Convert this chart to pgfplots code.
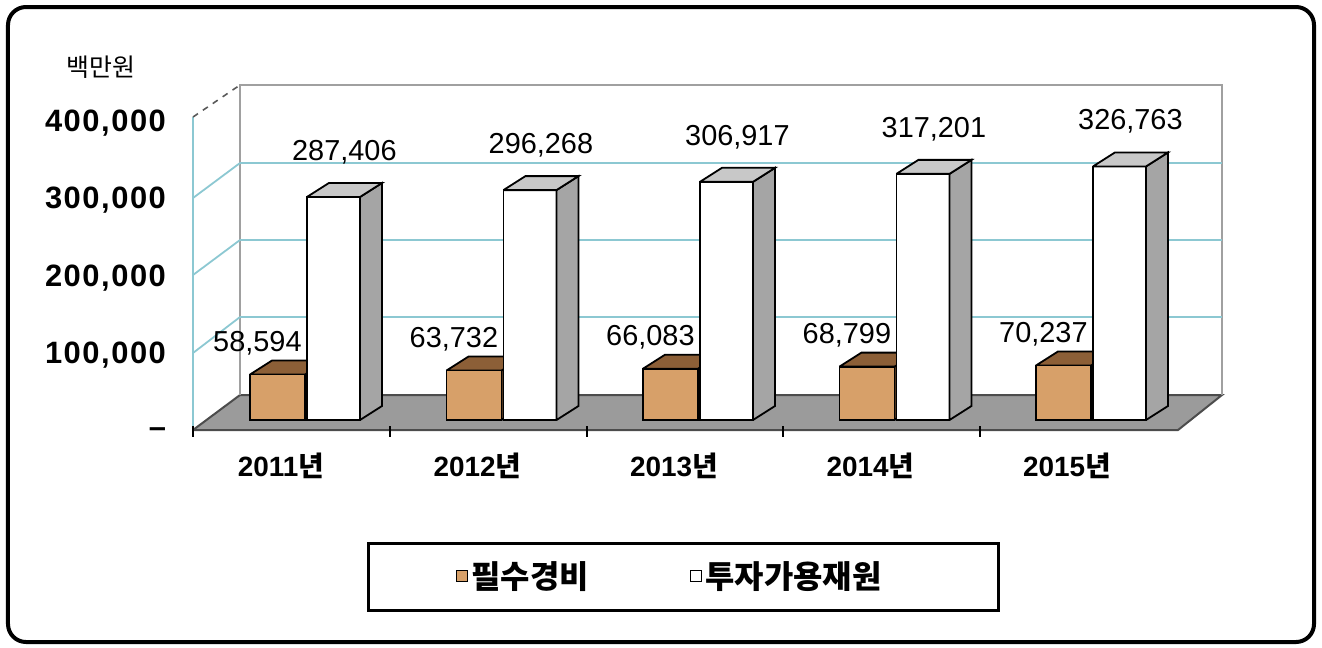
\documentclass[border=0pt]{standalone}
\usepackage{fontspec}
\setmainfont{Liberation Sans}
\newfontfamily\cjk{Noto Sans CJK KR}
\newfontfamily\tickfont{Liberation Sans}[LetterSpace=5]
\usepackage{pgfplots}
\pgfplotsset{compat=1.18}
\definecolor{brownfront}{RGB}{215,160,105}
\definecolor{browntop}{RGB}{140,95,55}
\definecolor{brownside}{RGB}{115,78,45}
\definecolor{wtop}{RGB}{200,200,200}
\definecolor{wside}{RGB}{165,165,165}
\definecolor{floorc}{RGB}{155,155,155}
\definecolor{gridc}{RGB}{140,200,210}
\definecolor{wallc}{RGB}{160,160,160}
\begin{document}
\begin{tikzpicture}
\begin{axis}[
  scale only axis, width=516bp, height=173.5bp,
  xmin=-0.5038, xmax=4.748, ymin=-12887, ymax=434292,
  clip=false, axis line style={draw=none}, major tick length=0pt,
  scaled y ticks=false,
  xtick={0,1,2,3,4},
  xticklabels={2011{\cjk 년},2012{\cjk 년},2013{\cjk 년},2014{\cjk 년},2015{\cjk 년}},
  ytick={0,100000,200000,300000,400000},
  yticklabels={{–},{100,000},{200,000},{300,000},{400,000}},
  yticklabel style={font=\tickfont\bfseries\fontsize{15.5}{16}\selectfont, xshift=-10bp, yshift=-6.5bp},
  xticklabel style={font=\bfseries\fontsize{14}{16}\selectfont, xshift=-5.5bp, yshift=-8bp},
  legend style={at={(0.4623,-0.4208)}, anchor=center, draw=none, fill=none,
    legend columns=2, font=\fontsize{16}{18}\selectfont\cjk\bfseries,
    nodes={inner sep=1.5bp},
    /tikz/every even column/.append style={column sep=49bp}},
]
% bounding box and outer frame
\path (axis cs:-1.486,-292535) rectangle (axis cs:5.2417,541254);
\draw[line width=2bp, rounded corners=9bp] (axis cs:-1.4453,532233) rectangle (axis cs:5.2010,-286091);
\node[font=\fontsize{12.5}{14}\selectfont\cjk] at (axis cs:-0.972,454911) {백만원};
% floor
\addplot[forget plot, fill=floorc, draw=gray!60!black, line width=1bp] coordinates {(-0.5038,-12887) (4.5089,-12887) (4.7328,32218) (-0.2646,32218) (-0.5038,-12887)};
% back wall
\addplot[forget plot, draw=wallc, line width=0.8bp] coordinates {(-0.2646,32218) (-0.2646,431714) (4.7328,431714) (4.7328,32218)};
\addplot[forget plot, draw=gridc, line width=0.9bp] coordinates {(-0.2646,132736) (4.7328,132736)};
\addplot[forget plot, draw=gridc, line width=0.9bp] coordinates {(-0.2646,231966) (4.7328,231966)};
\addplot[forget plot, draw=gridc, line width=0.9bp] coordinates {(-0.2646,331196) (4.7328,331196)};
% left wall
\addplot[forget plot, draw=gridc, line width=0.9bp] coordinates {(-0.5038,-12887) (-0.5038,390476)};
\addplot[forget plot, draw=gridc, line width=0.9bp] coordinates {(-0.5038,86343) (-0.2646,132736)};
\addplot[forget plot, draw=gridc, line width=0.9bp] coordinates {(-0.5038,186862) (-0.2646,231966)};
\addplot[forget plot, draw=gridc, line width=0.9bp] coordinates {(-0.5038,286091) (-0.2646,331196)};
\addplot[forget plot, draw=gray!70!black, dashed, line width=0.8bp] coordinates {(-0.5038,390476) (-0.2646,431714)};
% front edge ticks
\addplot[forget plot, draw=black, line width=1.2bp] coordinates {(0.5,-7732) (0.5,-21908)};
\addplot[forget plot, draw=black, line width=1.2bp] coordinates {(1.5,-7732) (1.5,-21908)};
\addplot[forget plot, draw=black, line width=1.2bp] coordinates {(2.5,-7732) (2.5,-21908)};
\addplot[forget plot, draw=black, line width=1.2bp] coordinates {(3.5,-7732) (3.5,-21908)};
\addplot[forget plot, draw=black, line width=1.2bp] coordinates {(-0.5038,-7732) (-0.5038,-21908)};
% brown bar sides and tops
\addplot[forget plot, fill=brownside, draw=black, line width=0.9bp] coordinates {(0.066,0) (0.178,18042) (0.178,76636) (0.066,58594) (0.066,0)};
\addplot[forget plot, fill=brownside, draw=black, line width=0.9bp] coordinates {(1.066,0) (1.178,18042) (1.178,81774) (1.066,63732) (1.066,0)};
\addplot[forget plot, fill=brownside, draw=black, line width=0.9bp] coordinates {(2.066,0) (2.178,18042) (2.178,84125) (2.066,66083) (2.066,0)};
\addplot[forget plot, fill=brownside, draw=black, line width=0.9bp] coordinates {(3.066,0) (3.178,18042) (3.178,86841) (3.066,68799) (3.066,0)};
\addplot[forget plot, fill=brownside, draw=black, line width=0.9bp] coordinates {(4.066,0) (4.178,18042) (4.178,88279) (4.066,70237) (4.066,0)};
\addplot[forget plot, fill=browntop, draw=black, line width=0.9bp] coordinates {(-0.214,58594) (0.066,58594) (0.178,76636) (-0.102,76636) (-0.214,58594)};
\addplot[forget plot, fill=browntop, draw=black, line width=0.9bp] coordinates {(0.786,63732) (1.066,63732) (1.178,81774) (0.898,81774) (0.786,63732)};
\addplot[forget plot, fill=browntop, draw=black, line width=0.9bp] coordinates {(1.786,66083) (2.066,66083) (2.178,84125) (1.898,84125) (1.786,66083)};
\addplot[forget plot, fill=browntop, draw=black, line width=0.9bp] coordinates {(2.786,68799) (3.066,68799) (3.178,86841) (2.898,86841) (2.786,68799)};
\addplot[forget plot, fill=browntop, draw=black, line width=0.9bp] coordinates {(3.786,70237) (4.066,70237) (4.178,88279) (3.898,88279) (3.786,70237)};
% brown bars (front faces)
\addplot[forget plot, ybar, bar width=0.28, bar shift=-0.074, fill=brownfront, draw=black, line width=0.9bp,
  nodes near coords={\pgfmathprintnumber[fixed,precision=0,1000 sep={,},assume math mode=true]{\pgfplotspointmeta}},
  every node near coord/.append style={anchor=center, xshift=-17.3bp, yshift=15.5bp, font=\fontsize{14.5}{16}\selectfont, text=black}]
  coordinates {(0,58594) (1,63732) (2,66083) (3,68799) (4,70237)};
% white bars (front faces)
\addplot[forget plot, ybar, bar width=0.27, bar shift=0.211, fill=white, draw=black, line width=0.9bp,
  nodes near coords={\pgfmathprintnumber[fixed,precision=0,1000 sep={,},assume math mode=true]{\pgfplotspointmeta}},
  every node near coord/.append style={anchor=center, xshift=26.2bp, yshift=22.5bp, font=\fontsize{14.5}{16}\selectfont, text=black}]
  coordinates {(0,287406) (1,296268) (2,306917) (3,317201) (4,326763)};
% white bar sides and tops
\addplot[forget plot, fill=wside, draw=black, line width=0.9bp] coordinates {(0.346,0) (0.458,18042) (0.458,305448) (0.346,287406) (0.346,0)};
\addplot[forget plot, fill=wside, draw=black, line width=0.9bp] coordinates {(1.346,0) (1.458,18042) (1.458,314310) (1.346,296268) (1.346,0)};
\addplot[forget plot, fill=wside, draw=black, line width=0.9bp] coordinates {(2.346,0) (2.458,18042) (2.458,324959) (2.346,306917) (2.346,0)};
\addplot[forget plot, fill=wside, draw=black, line width=0.9bp] coordinates {(3.346,0) (3.458,18042) (3.458,335243) (3.346,317201) (3.346,0)};
\addplot[forget plot, fill=wside, draw=black, line width=0.9bp] coordinates {(4.346,0) (4.458,18042) (4.458,344805) (4.346,326763) (4.346,0)};
\addplot[forget plot, fill=wtop, draw=black, line width=0.9bp] coordinates {(0.076,287406) (0.346,287406) (0.458,305448) (0.188,305448) (0.076,287406)};
\addplot[forget plot, fill=wtop, draw=black, line width=0.9bp] coordinates {(1.076,296268) (1.346,296268) (1.458,314310) (1.188,314310) (1.076,296268)};
\addplot[forget plot, fill=wtop, draw=black, line width=0.9bp] coordinates {(2.076,306917) (2.346,306917) (2.458,324959) (2.188,324959) (2.076,306917)};
\addplot[forget plot, fill=wtop, draw=black, line width=0.9bp] coordinates {(3.076,317201) (3.346,317201) (3.458,335243) (3.188,335243) (3.076,317201)};
\addplot[forget plot, fill=wtop, draw=black, line width=0.9bp] coordinates {(4.076,326763) (4.346,326763) (4.458,344805) (4.188,344805) (4.076,326763)};
% legend
\draw[line width=1.5bp] (axis cs:0.3868,-158510) rectangle (axis cs:3.5929,-244853);
\addlegendimage{legend image code/.code={\draw[fill=brownfront,draw=black,line width=0.8bp] (0bp,-2.75bp) rectangle (5.5bp,2.75bp);}}
\addlegendentry{필수경비}
\addlegendimage{legend image code/.code={\draw[fill=white,draw=black,line width=0.8bp] (0bp,-2.75bp) rectangle (5.5bp,2.75bp);}}
\addlegendentry{투자가용재원}
\end{axis}
\end{tikzpicture}
\end{document}
